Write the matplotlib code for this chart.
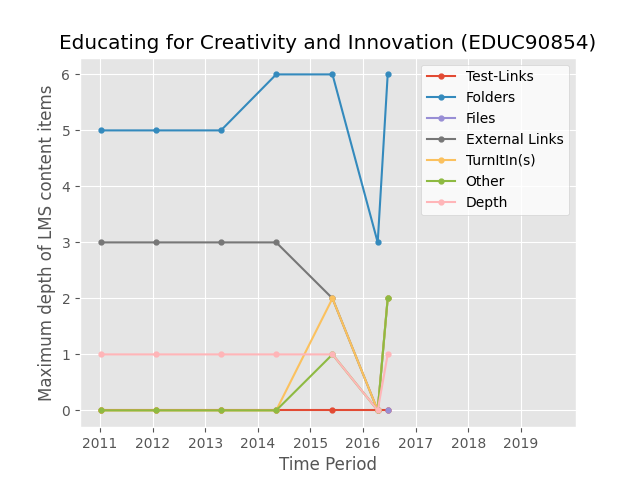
import matplotlib
matplotlib.use("Agg")
import matplotlib.pyplot as plt

plt.style.use("ggplot")

nan = float("nan")
periods = [2011.02, 2012.07, 2013.3, 2014.35, 2015.42, 2016.28, 2016.47]
test_links = [0, 0, 0, 0, 0, 0, 0]
folders = [5, 5, 5, 6, 6, 3, 6]
files = [nan, nan, nan, nan, nan, nan, 0]
external_links = [3, 3, 3, 3, 2, 0, 2]
turnitin = [0, 0, 0, 0, 2, 0, 2]
other = [0, 0, 0, 0, 1, 0, 2]
depth = [1, 1, 1, 1, 1, 0, 1]

series = [
    ("Test-Links", test_links),
    ("Folders", folders),
    ("Files", files),
    ("External Links", external_links),
    ("TurnItIn(s)", turnitin),
    ("Other", other),
    ("Depth", depth),
]

fig, ax = plt.subplots(figsize=(6.4, 4.8), dpi=100)
for label, values in series:
    ax.plot(periods, values, marker="o", markersize=3.5, label=label)
ax.set_xlim(2010.62, 2020.05)
ax.set_xticks(range(2011, 2020))
ax.set_xlabel("Time Period")
ax.set_ylabel("Maximum depth of LMS content items")
ax.set_title("Educating for Creativity and Innovation (EDUC90854)")
ax.legend(loc="upper right", facecolor="white")
fig.savefig("out.png")
